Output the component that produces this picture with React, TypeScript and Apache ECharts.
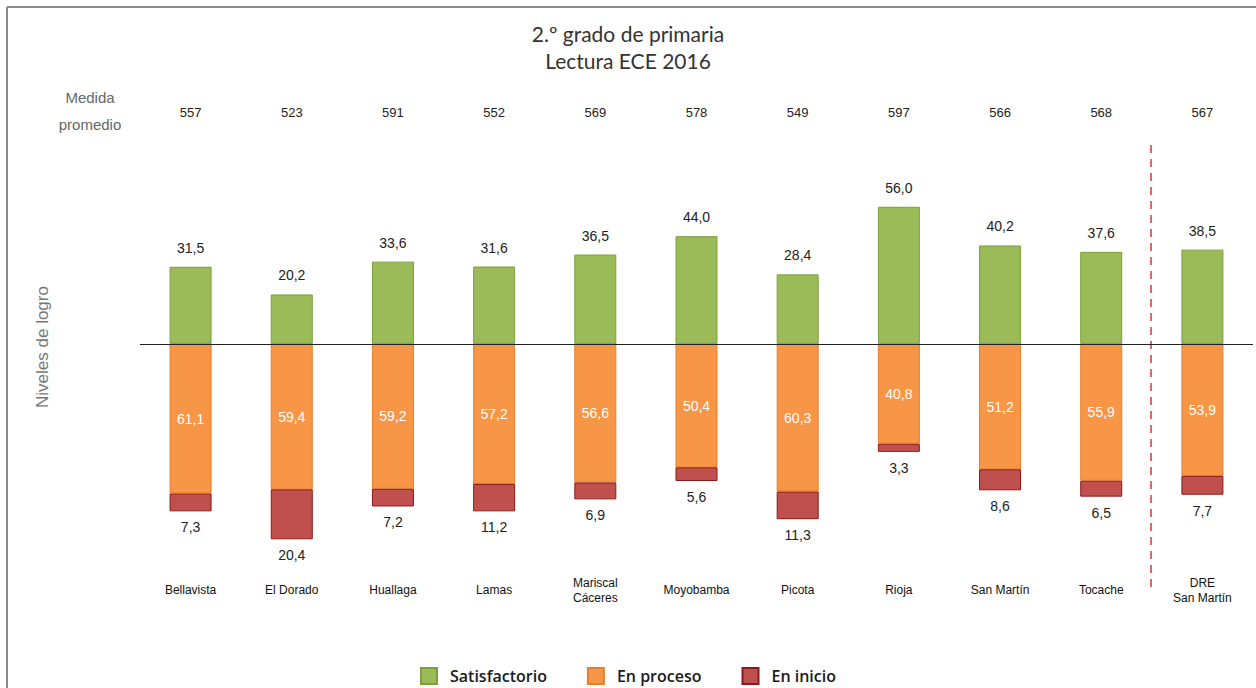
import React, { useEffect, useRef } from "react";
import * as echarts from "echarts";

const categories = [
  "Bellavista",
  "El Dorado",
  "Huallaga",
  "Lamas",
  "Mariscal\nCáceres",
  "Moyobamba",
  "Picota",
  "Rioja",
  "San Martín",
  "Tocache",
  "DRE\nSan Martín",
];
const medida = ["557", "523", "591", "552", "569", "578", "549", "597", "566", "568", "567"];
const satisfactorio = [31.5, 20.2, 33.6, 31.6, 36.5, 44.0, 28.4, 56.0, 40.2, 37.6, 38.5];
const enProceso = [61.1, 59.4, 59.2, 57.2, 56.6, 50.4, 60.3, 40.8, 51.2, 55.9, 53.9];
const enInicio = [7.3, 20.4, 7.2, 11.2, 6.9, 5.6, 11.3, 3.3, 8.6, 6.5, 7.7];

const fmt = (p: any) => Math.abs(p.value).toFixed(1).replace(".", ",");

export default function App() {
  const ref = useRef<HTMLDivElement>(null);
  useEffect(() => {
    if (!ref.current) return;
    const chart = echarts.init(ref.current, null, { renderer: "svg" });
    const labelFont = "Liberation Sans, Arial, sans-serif";
    chart.setOption({
      animation: false,
      backgroundColor: "#ffffff",
      title: {
        text: "2.º grado de primaria\nLectura ECE 2016",
        left: "center",
        top: 15,
        textStyle: {
          fontFamily: "Lato, sans-serif",
          fontSize: 21,
          fontWeight: "normal",
          color: "#333",
          lineHeight: 27,
        },
      },
      legend: {
        data: ["Satisfactorio", "En proceso", "En inicio"],
        left: "center",
        top: 667,
        padding: 0,
        icon: "rect",
        itemWidth: 16,
        itemHeight: 16,
        itemGap: 40,
        textStyle: {
          fontFamily: "Open Sans, sans-serif",
          fontSize: 16,
          fontWeight: 600,
          color: "#1a1a1a",
          lineHeight: 18,
          padding: [0, 0, 0, 8],
        },
      },
      grid: { left: 140, right: 3, top: 197, bottom: 136 },
      xAxis: [
        {
          type: "category",
          data: categories,
          axisLine: { show: false },
          axisTick: { show: false },
          axisLabel: {
            interval: 0,
            margin: 38,
            verticalAlign: "middle",
            fontFamily: labelFont,
            fontSize: 12,
            color: "#111",
            lineHeight: 15,
          },
        },
        {
          type: "category",
          data: medida,
          position: "top",
          axisLine: { show: false },
          axisTick: { show: false },
          axisLabel: {
            interval: 0,
            margin: 85,
            verticalAlign: "middle",
            fontFamily: labelFont,
            fontSize: 13,
            color: "#222",
          },
        },
      ],
      yAxis: {
        type: "value",
        min: -85,
        max: 60,
        axisLine: { show: false },
        axisTick: { show: false },
        axisLabel: { show: false },
        splitLine: { show: false },
      },
      series: [
        {
          name: "Satisfactorio",
          type: "bar",
          stack: "a",
          barWidth: 42,
          data: satisfactorio,
          itemStyle: { color: "#9BBB59", borderColor: "#7E9D3E", borderWidth: 1 },
          label: {
            show: true,
            position: "top",
            distance: 12,
            formatter: fmt,
            fontFamily: labelFont,
            fontSize: 14,
            color: "#222",
          },
          markLine: {
            silent: true,
            symbol: "none",
            label: { show: false },
            lineStyle: { color: "#222", width: 1, type: "solid" },
            data: [{ yAxis: 0 }],
          },
        },
        {
          name: "En proceso",
          type: "bar",
          stack: "a",
          barWidth: 42,
          data: enProceso.map((v) => -v),
          itemStyle: { color: "#F79646", borderColor: "#E57F2E", borderWidth: 1 },
          label: {
            show: true,
            position: "inside",
            formatter: fmt,
            fontFamily: labelFont,
            fontSize: 14,
            color: "#ffffff",
          },
        },
        {
          name: "En inicio",
          type: "bar",
          stack: "a",
          barWidth: 42,
          data: enInicio.map((v) => -v),
          itemStyle: { color: "#C0504D", borderColor: "#8B1A1A", borderWidth: 1 },
          label: {
            show: true,
            position: "bottom",
            distance: 9,
            formatter: fmt,
            fontFamily: labelFont,
            fontSize: 14,
            color: "#222",
          },
        },
      ],
      graphic: [
        {
          type: "line",
          shape: { x1: 7, y1: 7, x2: 1256, y2: 7 },
          style: { stroke: "#8a8a8a", lineWidth: 2 },
        },
        {
          type: "line",
          shape: { x1: 7, y1: 7, x2: 7, y2: 688 },
          style: { stroke: "#8a8a8a", lineWidth: 2 },
        },
        {
          type: "line",
          shape: { x1: 1151, y1: 145, x2: 1151, y2: 592 },
          style: { stroke: "#D9363E", lineWidth: 1.5, lineDash: [8, 6] },
        },
        {
          type: "text",
          x: 90,
          y: 111,
          style: {
            text: "Medida\npromedio",
            align: "center",
            verticalAlign: "middle",
            fontFamily: labelFont,
            fontSize: 15,
            lineHeight: 27,
            fill: "#666",
          },
        },
        {
          type: "text",
          x: 42,
          y: 347,
          rotation: Math.PI / 2,
          style: {
            text: "Niveles de logro",
            align: "center",
            verticalAlign: "middle",
            fontFamily: labelFont,
            fontSize: 17,
            fill: "#777",
          },
        },
      ],
    });
    return () => chart.dispose();
  }, []);
  return (
    <div
      ref={ref}
      style={{ position: "fixed", left: 0, top: 0, width: 1256, height: 688 }}
    />
  );
}
